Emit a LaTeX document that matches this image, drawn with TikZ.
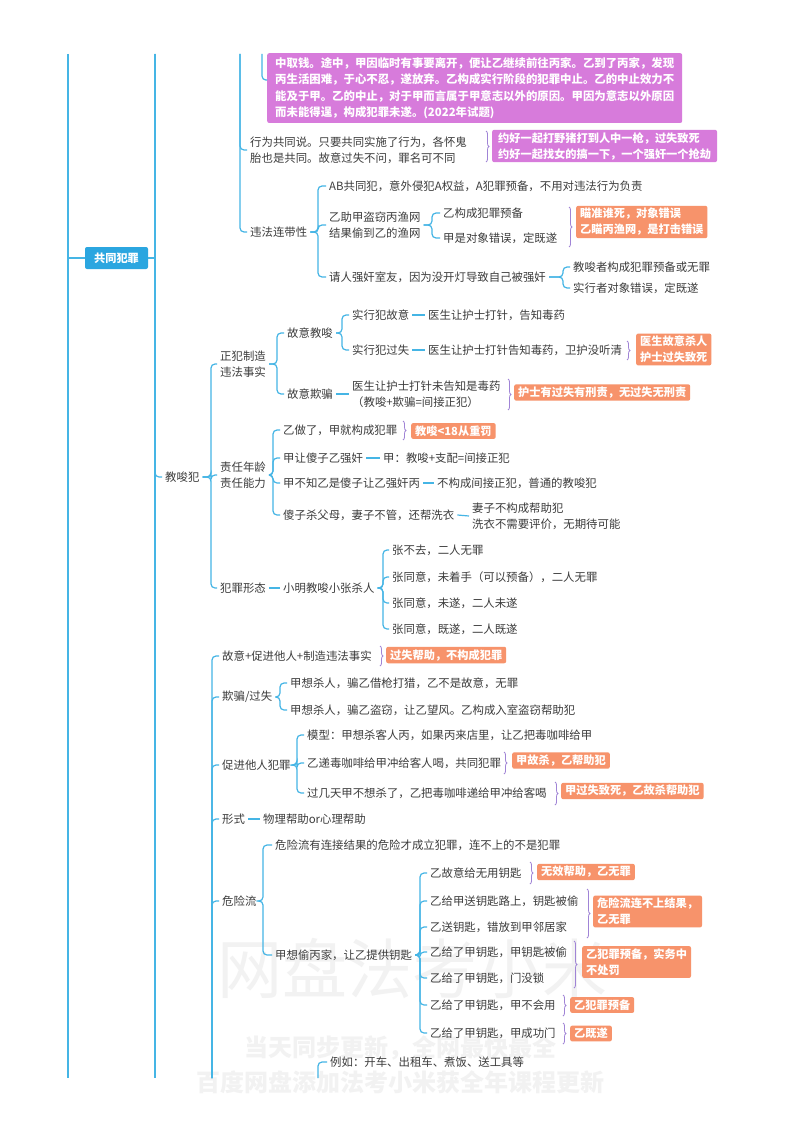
\documentclass[tikz,border=0pt]{standalone}
\usepackage{fontspec}
\setmainfont{Noto Sans CJK SC}
\usetikzlibrary{decorations.pathreplacing}
\definecolor{ln}{HTML}{45B5E5}
\definecolor{tx}{HTML}{3C3C3C}
\definecolor{org}{HTML}{F7936B}
\definecolor{pur}{HTML}{D77BDB}
\definecolor{blu}{HTML}{2BA6E0}
\definecolor{brcol}{HTML}{A084D6}
\newcommand\brk[3]{\foreach \c in {#3}{\draw[conn] (#1.east) -- (#2,0 |- #1.east) |- (\c.west);}}
\newcommand\dash[2]{\draw[conn] (#1.east) -- (#2.west);}
\begin{document}
\begin{tikzpicture}[x=1pt,y=-1pt,
 conn/.style={draw=ln,line width=1.2pt,rounded corners=4pt},
 tn/.style={anchor=west,inner xsep=3pt,inner ysep=1pt,text=tx,font=\fontsize{11.4}{16}\selectfont,align=left},
 ob/.style={anchor=west,fill=org,rounded corners=2pt,text=white,font=\fontsize{11.2}{16}\selectfont\bfseries,inner xsep=4pt,inner ysep=2.5pt,align=left},
 pb/.style={ob,fill=pur},
 gtn/.style={fill=blu,text=white,font=\fontsize{11.2}{14}\selectfont\bfseries,minimum width=63pt,minimum height=22pt,rounded corners=2pt,inner sep=0pt},
 brc/.style={draw=brcol,line width=0.8pt,decorate,decoration={brace,amplitude=3pt}},
 wm/.style={text=black!5}]
\fill[white] (0,0) rectangle (800,1132);
\useasboundingbox (0,0) rectangle (800,1132);
% watermark
\node[wm,font=\fontsize{65}{65}\selectfont] (wm1) at (412,968) {网盘法考小米};
\node[wm,font=\fontsize{24}{24}\selectfont\bfseries] (wm2) at (400,1048) {当天同步更新，全网最快最全};
\node[wm,font=\fontsize{24}{24}\selectfont\bfseries] (wm3) at (400,1082) {百度网盘添加法考小米获全年课程更新};
% off-page coordinates
\coordinate (c68t) at (68,54);
\coordinate (c68b) at (68,1078);
\coordinate (c155t) at (155,54);
\coordinate (c155b) at (155,1078);
\coordinate (c240) at (240,54);
\coordinate (c262) at (262,54);
\coordinate (c212) at (212,1078);
\coordinate (c318) at (318,1078);
% top part
\node[pb,anchor=north west,inner xsep=8pt,inner ysep=4pt,font=\fontsize{11.4}{16.5}\selectfont\bfseries] (pk) at (267,53) {中取钱。途中，甲因临时有事要离开，便让乙继续前往丙家。乙到了丙家，发现\\丙生活困难，于心不忍，遂放弃。乙构成实行阶段的犯罪中止。乙的中止效力不\\能及于甲。乙的中止，对于甲而言属于甲意志以外的原因。甲因为意志以外原因\\而未能得逞，构成犯罪未遂。(2022年试题)};
\draw[conn] (c262) |- ([yshift=8pt]pk.west);
\node[tn] (xw) at (247,150) {行为共同说。只要共同实施了行为，各怀鬼\\胎也是共同。故意过失不问，罪名可不同};
\node[pb,inner xsep=6pt] (pb2) at (492,146) {约好一起打野猪打到人中一枪，过失致死\\约好一起找女的搞一下，一个强奸一个抢劫};
\node[tn] (wf) at (247,232) {违法连带性};
\draw[conn] (c240) |- (xw.west);
\draw[conn] (c240) |- (wf.west);
\node[tn] (ab) at (326,186) {AB共同犯，意外侵犯A权益，A犯罪预备，不用对违法行为负责};
\node[tn] (yz) at (326,225) {乙助甲盗窃丙渔网\\结果偷到乙的渔网};
\node[tn] (qr) at (326,277) {请人强奸室友，因为没开灯导致自己被强奸};
\node[tn] (yg) at (440,213) {乙构成犯罪预备};
\node[tn] (jd) at (440,238) {甲是对象错误，定既遂};
\node[ob] (o1) at (576,222) {瞄准谁死，对象错误\\乙瞄丙渔网，是打击错误};
\node[tn] (jz) at (570,267) {教唆者构成犯罪预备或无罪};
\node[tn] (sx) at (570,288) {实行者对象错误，定既遂};
\brk{wf}{318}{ab,yz,qr}
\brk{yz}{432}{yg,jd}
\brk{qr}{563}{jz,sx}
% root lines
\draw[conn] (c68t) -- (c68b);
\draw[conn] (c155t) -- (c155b);
\node[gtn] (gt) at (116.5,258) {共同犯罪};
\draw[conn] (gt.west -| c68t) -- (gt.west);
\draw[conn] (gt.east) -- (gt.east -| c155t);
% 教唆犯
\node[tn] (jsf) at (162,477) {教唆犯};
\draw[conn] (c155t) |- (jsf.west);
\node[tn] (zf) at (217,364) {正犯制造\\违法事实};
\node[tn] (zr) at (217,475) {责任年龄\\责任能力};
\node[tn] (fx) at (217,588) {犯罪形态};
\brk{jsf}{211}{zf,zr,fx}
\node[tn] (gy) at (284,333) {故意教唆};
\node[tn] (gq) at (284,394) {故意欺骗};
\brk{zf}{277}{gy,gq}
\node[tn] (s1) at (349,315) {实行犯故意};
\node[tn] (s2) at (349,350) {实行犯过失};
\brk{gy}{342}{s1,s2}
\node[tn] (d1) at (425,315) {医生让护士打针，告知毒药};
\node[tn] (d2) at (425,350) {医生让护士打针告知毒药，卫护没听清};
\node[ob] (o2) at (636,349.5) {医生故意杀人\\护士过失致死};
\node[tn] (d3) at (349,394) {医生让护士打针未告知是毒药\\（教唆+欺骗=间接正犯）};
\node[ob] (o3) at (514,392.5) {护士有过失有刑责，无过失无刑责};
\dash{s1}{d1}
\dash{s2}{d2}
\dash{gq}{d3}
\node[tn] (r1) at (280,430) {乙做了，甲就构成犯罪};
\node[ob] (o4) at (411,431) {教唆<18从重罚};
\node[tn] (r2) at (280,458) {甲让傻子乙强奸};
\node[tn] (r2b) at (380,458) {甲：教唆+支配=间接正犯};
\node[tn] (r3) at (280,483) {甲不知乙是傻子让乙强奸丙};
\node[tn] (r3b) at (434,483) {不构成间接正犯，普通的教唆犯};
\node[tn] (r4) at (280,515) {傻子杀父母，妻子不管，还帮洗衣};
\node[tn] (r4b) at (469,516) {妻子不构成帮助犯\\洗衣不需要评价，无期待可能};
\brk{zr}{273}{r1,r2,r3,r4}
\dash{r2}{r2b}
\dash{r3}{r3b}
\dash{r4}{r4b}
\node[tn] (xm) at (280,588) {小明教唆小张杀人};
\dash{fx}{xm}
\node[tn] (z1) at (389,550) {张不去，二人无罪};
\node[tn] (z2) at (389,577) {张同意，未着手（可以预备），二人无罪};
\node[tn] (z3) at (389,603) {张同意，未遂，二人未遂};
\node[tn] (z4) at (389,629) {张同意，既遂，二人既遂};
\brk{xm}{383}{z1,z2,z3,z4}
% second group
\node[tn] (g1) at (219,656) {故意+促进他人+制造违法事实};
\node[ob] (o5) at (386,655) {过失帮助，不构成犯罪};
\node[tn] (g2) at (219,697) {欺骗/过失};
\node[tn] (q1) at (287,683) {甲想杀人，骗乙借枪打猎，乙不是故意，无罪};
\node[tn] (q2) at (287,710) {甲想杀人，骗乙盗窃，让乙望风。乙构成入室盗窃帮助犯};
\brk{g2}{280}{q1,q2}
\node[tn] (g3) at (219,765) {促进他人犯罪};
\node[tn] (p1) at (304,735) {模型：甲想杀客人丙，如果丙来店里，让乙把毒咖啡给甲};
\node[tn] (p2) at (304,763) {乙递毒咖啡给甲冲给客人喝，共同犯罪};
\node[ob] (o6) at (512,760.5) {甲故杀，乙帮助犯};
\node[tn] (p3) at (304,793) {过几天甲不想杀了，乙把毒咖啡递给甲冲给客喝};
\node[ob] (o7) at (561,791) {甲过失致死，乙故杀帮助犯};
\brk{g3}{297}{p1,p2,p3}
\node[tn] (g4) at (219,819) {形式};
\node[tn] (g4b) at (260,819) {物理帮助or心理帮助};
\dash{g4}{g4b}
\node[tn] (g5) at (219,901) {危险流};
\node[tn] (w1) at (272,845) {危险流有连接结果的危险才成立犯罪，连不上的不是犯罪};
\node[tn] (w2) at (272,955) {甲想偷丙家，让乙提供钥匙};
\brk{g5}{263}{w1,w2}
\node[tn] (k1) at (427,873) {乙故意给无用钥匙};
\node[tn] (k2) at (427,901) {乙给甲送钥匙路上，钥匙被偷};
\node[tn] (k3) at (427,927) {乙送钥匙，错放到甲邻居家};
\node[tn] (k4) at (427,952) {乙给了甲钥匙，甲钥匙被偷};
\node[tn] (k5) at (427,978) {乙给了甲钥匙，门没锁};
\node[tn] (k6) at (427,1005) {乙给了甲钥匙，甲不会用};
\node[tn] (k7) at (427,1033) {乙给了甲钥匙，甲成功门};
\brk{w2}{420}{k1,k2,k3,k4,k5,k6,k7}
\node[ob] (o8) at (537,872) {无效帮助，乙无罪};
\node[ob] (o9) at (593,911.5) {危险流连不上结果，\\乙无罪};
\node[ob] (o10) at (582,962) {乙犯罪预备，实务中\\不处罚};
\node[ob] (o11) at (570,1005) {乙犯罪预备};
\node[ob] (o12) at (570,1033.5) {乙既遂};
\foreach \c in {g1,g2,g3,g4,g5} \draw[conn] (c212) |- (\c.west);
\node[tn] (ex) at (327,1062) {例如：开车、出租车、煮饭、送工具等};
\draw[conn] (c318) |- (ex.west);
% braces
\draw[brc] (486,131) -- (486,162);
\draw[brc] (569,207) -- (569,247);
\draw[brc] (627,341) -- (627,360);
\draw[brc] (508,379) -- (508,410);
\draw[brc] (403,421) -- (403,440);
\draw[brc] (380,646) -- (380,666);
\draw[brc] (504,752) -- (504,774);
\draw[brc] (555,782) -- (555,805);
\draw[brc] (530,862) -- (530,884);
\draw[brc] (587,889) -- (587,938);
\draw[brc] (574,941) -- (574,988);
\draw[brc] (563,995) -- (563,1016);
\draw[brc] (563,1023) -- (563,1044);
\end{tikzpicture}
\end{document}
